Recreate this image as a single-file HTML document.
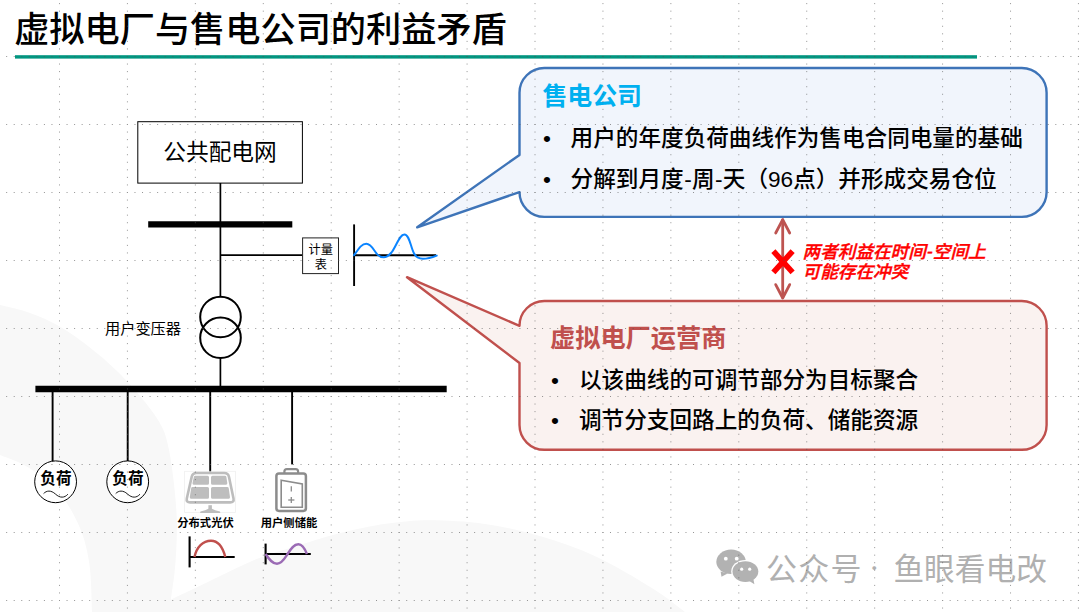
<!DOCTYPE html>
<html lang="zh-CN">
<head>
<meta charset="utf-8">
<title>虚拟电厂与售电公司的利益矛盾</title>
<style>
html,body{margin:0;padding:0;background:#fff;}
body{width:1080px;height:612px;overflow:hidden;position:relative;
  font-family:"Liberation Sans","Noto Sans CJK SC",sans-serif;}
svg{position:absolute;left:0;top:0;display:block;}
text{font-family:"Liberation Sans","Noto Sans CJK SC",sans-serif;}
.t-title{font-size:35.2px;font-weight:500;fill:#000;}
.t-h-blue{font-size:24.9px;font-weight:700;fill:#00B0F0;}
.t-h-red{font-size:25.2px;font-weight:700;fill:#C0504D;}
.t-b{font-size:22.62px;font-weight:500;fill:#000;}
.t-note{font-size:17.6px;font-weight:500;font-style:italic;fill:#FF0000;stroke:#FF0000;stroke-width:0.4px;}
.t-grid{font-size:22.7px;font-weight:400;fill:#000;}
.t-meter{font-size:12.2px;font-weight:400;fill:#000;}
.t-tr{font-size:15.2px;font-weight:400;fill:#000;}
.t-load{font-size:15.6px;font-weight:700;fill:#000;}
.t-lab{font-size:11.3px;font-weight:700;fill:#000;}
.t-wm{font-size:31px;font-weight:400;fill:#B0B0B0;}
</style>
</head>
<body>
<svg width="1080" height="612" viewBox="0 0 1080 612">
  <!-- background swooshes -->
  <g fill="#F8F8F8">
    <path d="M-30.0,299.0 C-25.0,300.0 -10.0,302.7 0.0,305.0 C10.0,307.3 20.2,309.5 30.0,313.0 C39.8,316.5 49.3,320.5 59.0,326.0 C68.7,331.5 78.2,338.4 88.0,346.0 C97.8,353.6 108.0,362.2 117.5,371.5 C127.0,380.8 137.6,392.8 145.0,402.0 C152.4,411.2 158.0,419.0 162.0,427.0 C166.0,435.0 167.1,441.2 169.0,450.0 C170.9,458.8 172.3,470.0 173.5,480.0 C174.7,490.0 175.8,500.8 176.3,510.0 C176.9,519.2 177.0,525.3 176.8,535.0 C176.6,544.7 176.0,557.2 175.0,568.0 C174.0,578.8 172.1,590.2 170.8,599.7 C169.6,609.2 168.1,620.8 167.5,625.0 L92.5,625.0 C92.4,622.8 92.5,622.0 92.0,612.0 C91.5,602.0 91.5,579.0 89.5,565.0 C87.5,551.0 84.9,539.8 80.0,528.0 C75.1,516.2 68.3,503.9 60.0,494.0 C51.7,484.1 40.0,475.0 30.0,468.5 C20.0,462.0 10.0,458.8 0.0,455.0 C-10.0,451.2 -25.0,447.5 -30.0,446.0 Z"/>
    <path d="M140.0,613.0 C145.1,610.8 158.3,605.4 170.8,599.7 C183.3,594.0 200.5,585.5 215.0,578.6 C229.5,571.7 243.8,564.1 258.0,558.5 C272.2,552.9 287.8,548.8 300.0,545.0 C312.2,541.2 321.0,538.2 331.0,535.5 C341.0,532.8 350.2,530.5 360.0,528.5 C369.8,526.5 378.3,524.7 390.0,523.3 C401.7,521.9 414.2,520.2 430.0,520.3 C445.8,520.4 466.6,521.3 485.0,524.0 C503.4,526.7 522.2,530.8 540.7,536.3 C559.2,541.8 577.8,548.1 596.3,556.7 C614.8,565.3 637.1,578.8 651.9,588.0 C666.7,597.2 677.0,606.0 685.0,612.0 C693.0,618.0 697.5,622.0 700.0,624.0 L140,624 Z"/>
  </g>

  <!-- title -->
  <text class="t-title" x="14.2" y="42.2">虚拟电厂与售电公司的利益矛盾</text>
  <rect x="15" y="55.2" width="962" height="3.4" fill="#019680"/>

  <!-- one-line diagram -->
  <g stroke="#000" fill="none">
    <rect x="137.8" y="121.7" width="164.6" height="61.4" fill="#fff" stroke-width="1"/>
    <line x1="220.4" y1="183" x2="220.4" y2="297" stroke-width="1.7"/>
    <line x1="148.2" y1="224.3" x2="292.3" y2="224.3" stroke-width="6.2"/>
    <line x1="220.4" y1="255.2" x2="302.4" y2="255.2" stroke-width="1.7"/>
    <rect x="302.6" y="237.9" width="35.9" height="35.7" fill="#fff" stroke-width="1" stroke="#222"/>
    <!-- load curve axes -->
    <line x1="354.1" y1="224.4" x2="354.1" y2="286" stroke-width="1.9"/>
    <line x1="354.1" y1="255.2" x2="436" y2="255.2" stroke-width="1.9"/>
    <!-- transformer -->
    <circle cx="220.5" cy="317" r="20.3" stroke-width="2"/>
    <circle cx="220.5" cy="337.8" r="20.3" stroke-width="2"/>
    <line x1="220.4" y1="358.5" x2="220.4" y2="388" stroke-width="1.7"/>
    <!-- lower bus -->
    <line x1="35.4" y1="389" x2="446.7" y2="389" stroke-width="6.3"/>
    <line x1="52.6" y1="390" x2="52.6" y2="461.5" stroke-width="1.9"/>
    <line x1="127.7" y1="390" x2="127.7" y2="461.5" stroke-width="1.9"/>
    <line x1="210.2" y1="390" x2="210.2" y2="472" stroke-width="1.9"/>
    <line x1="292.1" y1="390" x2="292.1" y2="464.4" stroke-width="1.9"/>
    <!-- loads -->
    <circle cx="55.6" cy="481.8" r="20.9" fill="#fff" stroke-width="1"/>
    <circle cx="127.7" cy="481.8" r="20.9" fill="#fff" stroke-width="1"/>
    <path d="M43.6,493.6 C46.5,490.4 51,490 55.4,494 C60,498.3 64.5,498 67.9,494.2" stroke-width="0.9"/>
    <path d="M115.7,493.6 C118.6,490.4 123.1,490 127.5,494 C132.1,498.3 136.6,498 140,494.2" stroke-width="0.9"/>
  </g>
  <path d="M354.1,255.2 C358.5,249 361.5,243.7 366.3,243.7 C371.5,243.7 374,251 377.5,254.6 C380,257.3 382,257.3 383.8,257.3 C386.5,257.3 389,255.5 391.5,252.5 C396.5,246 399.5,234.4 404.4,234.4 C409.5,234.4 410.5,247 414.1,253.6 C416.5,258 419.5,258.8 422.8,258.8 C428,258.8 432,257.5 436.7,255.6" fill="none" stroke="#0A84FF" stroke-width="2" stroke-linecap="round"/>

  <text class="t-grid" x="220" y="159.8" text-anchor="middle">公共配电网</text>
  <text class="t-meter" x="320.8" y="253.8" text-anchor="middle">计量</text>
  <text class="t-meter" x="320.8" y="269.3" text-anchor="middle">表</text>
  <text class="t-tr" x="105" y="334">用户变压器</text>
  <text class="t-load" x="55.9" y="484.2" text-anchor="middle">负荷</text>
  <text class="t-load" x="127.9" y="484.2" text-anchor="middle">负荷</text>

  <!-- solar icon -->
  <g>
    <rect x="184.6" y="471.3" width="50.8" height="41.2" fill="none" stroke="#EFEFEF" stroke-width="0.8"/>
    <path d="M196.5,473 H224.2 Q228.2,473 229,476.9 L233.5,498.4 Q234.3,502.4 230.2,502.4 H190.1 Q186,502.4 186.8,498.4 L191.7,476.9 Q192.5,473 196.5,473 Z" fill="#fff" stroke="#BDBDBD" stroke-width="2.6"/>
    <g fill="#BEBEBE" stroke="#BEBEBE" stroke-width="3" stroke-linejoin="round">
      <path d="M195.3,477.3 H207.5 V483.2 H194 Z"/>
      <path d="M212.5,477.3 H224.9 L225.8,483.2 H212.5 Z"/>
      <path d="M192.6,488.6 H207.5 V497.3 H191.3 Z"/>
      <path d="M212.5,488.6 H227.3 L228.5,497.3 H212.5 Z"/>
    </g>
    <rect x="208.4" y="505.2" width="3.5" height="5" fill="#BDBDBD"/>
    <path d="M200.1,512.9 L200.4,511.6 Q206,510.2 208.4,508.8 H211.9 Q214.5,510.2 220,511.6 L220.3,512.9 Z" fill="#BDBDBD"/>
  </g>
  <!-- battery icon -->
  <g fill="none" stroke="#8C8C8C">
    <path d="M284.4,473 V471.6 Q284.4,469.1 286.9,469.1 H295.6 Q298.1,469.1 298.1,471.6 V473" stroke-width="2.2"/>
    <rect x="276.4" y="473.4" width="29.5" height="37.5" rx="2.6" ry="2.6" stroke-width="2.5"/>
    <path d="M281.2,480.2 L302.3,484 V507.3 H281.2 Z" stroke-width="1.6" stroke-linejoin="miter"/>
    <line x1="291.3" y1="486.3" x2="291.3" y2="491.6" stroke-width="1.3"/>
    <line x1="291.3" y1="496.9" x2="291.3" y2="503.1" stroke-width="1.3"/>
    <line x1="288.2" y1="500" x2="294.4" y2="500" stroke-width="1.3"/>
  </g>
  <text class="t-lab" x="205.5" y="526.8" text-anchor="middle">分布式光伏</text>
  <text class="t-lab" x="289" y="526.8" text-anchor="middle">用户侧储能</text>

  <!-- small charts -->
  <g stroke="#000" fill="none" stroke-width="2.1">
    <line x1="189.6" y1="536.4" x2="189.6" y2="567.4"/>
    <line x1="189.6" y1="557" x2="234.7" y2="557"/>
    <line x1="265.6" y1="543.6" x2="265.6" y2="564.4"/>
    <line x1="265.6" y1="554" x2="310.8" y2="554"/>
  </g>
  <path d="M194.5,557 C196.5,547 203,540.7 211,540.7 C218.5,540.7 223,548 225.3,557" fill="none" stroke="#C0504D" stroke-width="2.4"/>
  <path d="M265.6,554 C269.5,560 272.5,563.8 277,563.8 C282,563.8 285,558 287.6,554 C290.5,549.5 293.5,544.2 298.4,544.2 C302.5,544.2 305,549 306.9,554" fill="none" stroke="#9B6BB5" stroke-width="2.4"/>

  <!-- callouts -->
  <path d="M544.3,68.0 H1021.8 A24.8,24.8 0 0 1 1046.6,92.8 V192.1 A24.8,24.8 0 0 1 1021.8,216.9 H544.3 A24.8,24.8 0 0 1 519.5,192.1 V192.1 L417.2,227.3 L519.5,154.9 V92.8 A24.8,24.8 0 0 1 544.3,68.0 Z" fill="#F1F5FC" stroke="#3E74B8" stroke-width="2.4" stroke-linejoin="round"/>
  <path d="M544.3,301.0 H1021.8 A24.8,24.8 0 0 1 1046.6,325.8 V425.0 A24.8,24.8 0 0 1 1021.8,449.8 H544.3 A24.8,24.8 0 0 1 519.5,425.0 V363.0 L407.0,277.2 L519.5,325.8 A24.8,24.8 0 0 1 544.3,301.0 Z" fill="#FAF2F0" stroke="#C0504D" stroke-width="2.4" stroke-linejoin="round"/>

  <text class="t-h-blue" x="542.4" y="105.4">售电公司</text>
  <text class="t-b" x="543" y="146.4">•</text>
  <text class="t-b" x="570.6" y="146.4">用户的年度负荷曲线作为售电合同电量的基础</text>
  <text class="t-b" x="543" y="187.1">•</text>
  <text class="t-b" x="570.6" y="187.1">分解到月度<tspan dx="0.5">-</tspan><tspan dx="0.2">周</tspan><tspan dx="0.5">-</tspan><tspan dx="0.2">天</tspan>（96点）并形成交易仓位</text>

  <text class="t-h-red" x="550" y="346.6">虚拟电厂运营商</text>
  <text class="t-b" x="551" y="387.7">•</text>
  <text class="t-b" x="579" y="387.7">以该曲线的可调节部分为目标聚合</text>
  <text class="t-b" x="551" y="428.4">•</text>
  <text class="t-b" x="579" y="428.4">调节分支回路上的负荷、储能资源</text>

  <!-- conflict arrow -->
  <g stroke="#BE5451" fill="none" stroke-width="2.8" stroke-linecap="round" stroke-linejoin="round">
    <line x1="782.7" y1="220" x2="782.7" y2="297.4"/>
    <path d="M775.7,233 L782.7,219.6 L789.7,233"/>
    <path d="M775.7,284.6 L782.7,298 L789.7,284.6"/>
  </g>
  <g stroke="#FF0000" stroke-width="5.6" fill="none">
    <line x1="773.4" y1="251.2" x2="792.6" y2="272.4"/>
    <line x1="792.6" y1="251.2" x2="773.4" y2="272.4"/>
  </g>
  <text class="t-note" x="802.6" y="257.6">两者利益在时间<tspan dx="0.9">-</tspan><tspan dx="0.3">空</tspan>间上</text>
  <text class="t-note" x="802.6" y="278">可能存在冲突</text>

  <!-- watermark -->
  <g fill="#B2B2B2">
    <ellipse cx="731.1" cy="561.8" rx="14.8" ry="12.2"/>
    <path d="M720.6,571.5 L721.5,576.8 L727.6,573.6 Z"/>
    <ellipse cx="745.4" cy="571.6" rx="14.2" ry="11.7" fill="#fff"/>
    <ellipse cx="745.4" cy="571.6" rx="12.9" ry="10.4"/>
    <path d="M749.3,581 L754.4,584.3 L753.4,579.3 Z"/>
    <circle cx="725.8" cy="558.7" r="1.9" fill="#fff"/>
    <circle cx="736.7" cy="558.7" r="1.9" fill="#fff"/>
    <circle cx="741.7" cy="569.2" r="1.6" fill="#fff"/>
    <circle cx="749.7" cy="569.2" r="1.6" fill="#fff"/>
  </g>
  <text class="t-wm" x="766" y="579.6" letter-spacing="1.2">公众号</text>
  <text class="t-wm" x="874.2" y="575" text-anchor="middle" style="font-family:'Noto Sans CJK SC',sans-serif;font-size:18px">·</text>
  <text class="t-wm" x="893.4" y="579.5" style="font-size:30.7px">鱼眼看电改</text>

  <!-- editor grid overlay -->
  <g stroke="#555" stroke-width="1" fill="none" opacity="0.62">
    <g stroke-dasharray="1 6.5556">
      <line x1="59.50" y1="3.11" x2="59.50" y2="614"/>
      <line x1="127.43" y1="3.11" x2="127.43" y2="614"/>
      <line x1="195.36" y1="3.11" x2="195.36" y2="614"/>
      <line x1="263.29" y1="3.11" x2="263.29" y2="614"/>
      <line x1="331.22" y1="3.11" x2="331.22" y2="614"/>
      <line x1="399.15" y1="3.11" x2="399.15" y2="614"/>
      <line x1="467.08" y1="3.11" x2="467.08" y2="614"/>
      <line x1="535.01" y1="3.11" x2="535.01" y2="614"/>
      <line x1="602.94" y1="3.11" x2="602.94" y2="614"/>
      <line x1="670.87" y1="3.11" x2="670.87" y2="614"/>
      <line x1="738.80" y1="3.11" x2="738.80" y2="614"/>
      <line x1="806.73" y1="3.11" x2="806.73" y2="614"/>
      <line x1="874.66" y1="3.11" x2="874.66" y2="614"/>
      <line x1="942.59" y1="3.11" x2="942.59" y2="614"/>
      <line x1="1010.52" y1="3.11" x2="1010.52" y2="614"/>
      <line x1="1078.45" y1="3.11" x2="1078.45" y2="614"/>
    </g>
    <g stroke-dasharray="1 6.5478">
      <line x1="6.17" y1="56.50" x2="1082" y2="56.50"/>
      <line x1="6.17" y1="124.50" x2="1082" y2="124.50"/>
      <line x1="6.17" y1="192.50" x2="1082" y2="192.50"/>
      <line x1="6.17" y1="260.50" x2="1082" y2="260.50"/>
      <line x1="6.17" y1="328.50" x2="1082" y2="328.50"/>
      <line x1="6.17" y1="396.50" x2="1082" y2="396.50"/>
      <line x1="6.17" y1="464.50" x2="1082" y2="464.50"/>
      <line x1="6.17" y1="532.50" x2="1082" y2="532.50"/>
      <line x1="6.17" y1="600.50" x2="1082" y2="600.50"/>
    </g>
  </g>
</svg>
</body>
</html>
